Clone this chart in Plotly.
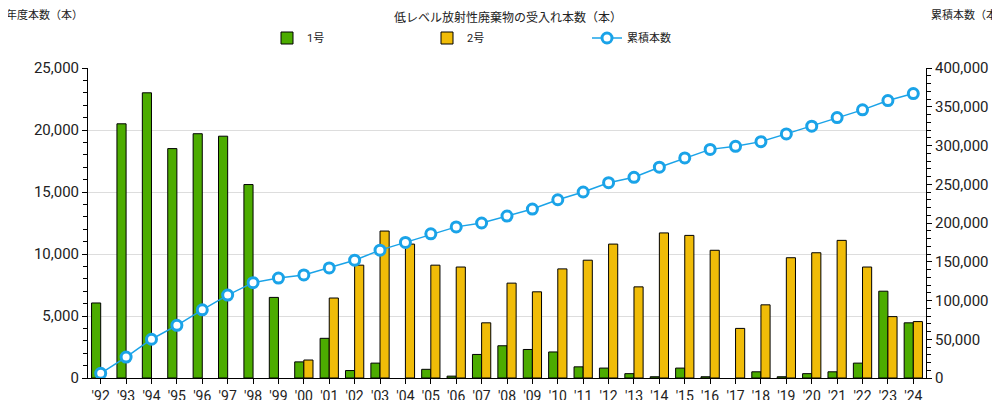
import plotly.graph_objects as go

years = ["'92","'93","'94","'95","'96","'97","'98","'99","'00","'01","'02","'03","'04","'05","'06","'07","'08","'09","'10","'11","'12","'13","'14","'15","'16","'17","'18","'19","'20","'21","'22","'23","'24"]
no1 = [6050,20500,23000,18500,19700,19500,15600,6500,1300,3200,600,1200,None,700,150,1900,2600,2300,2100,900,800,350,100,800,100,None,500,100,350,500,1200,7000,4450]
no2 = [None,None,None,None,None,None,None,None,1450,6450,9100,11850,10800,9100,8950,4450,7650,6950,8800,9500,10800,7350,11700,11500,10300,4000,5900,9700,10100,11100,8950,4950,4550]
cum = [6000,27000,50000,68000,88000,107000,123000,129000,133000,142000,152000,165000,175000,186000,195000,200000,209000,218000,230000,240000,252000,259000,272000,284000,295000,299000,305000,315000,325000,336000,346000,358000,367000]

fig = go.Figure()
fig.add_bar(x=years, y=no1, name="1号", marker=dict(color="#4cac00", line=dict(color="black", width=1)))
fig.add_bar(x=years, y=no2, name="2号", marker=dict(color="#f0bc08", line=dict(color="black", width=1)))
fig.add_scatter(x=years, y=cum, name="累積本数", yaxis="y2", mode="lines+markers",
                line=dict(color="#1aa3e8", width=1.5),
                marker=dict(size=10, color="white", line=dict(color="#1aa3e8", width=3)))

fnt = "Roboto, 'Noto Sans CJK JP', sans-serif"
fig.update_layout(
    width=1000, height=400, margin=dict(l=80, r=82, t=60, b=30, autoexpand=False),
    plot_bgcolor="white", paper_bgcolor="white",
    font=dict(family=fnt, size=13, color="#222"),
    barmode="group", bargap=0.28, bargroupgap=0,
    title=dict(text="低レベル放射性廃棄物の受入れ本数（本）", x=0.5, y=0.985, yanchor="top", font=dict(size=12)),
    legend=dict(orientation="h", x=0.5, xanchor="center", y=1.05, yanchor="bottom", font=dict(size=11), entrywidth=115),
    xaxis=dict(showline=True, linecolor="black", ticks="outside", tickcolor="black", tickfont=dict(size=14), range=[-0.5, 32.5]),
    yaxis=dict(range=[0, 25000], dtick=5000, tickformat=",", showgrid=True, gridcolor="#ddd",
               showline=True, linecolor="black", ticks="outside", tickcolor="black", tickfont=dict(size=15),
               minor=dict(dtick=1000, ticks="outside", ticklen=4, tickcolor="black")),
    yaxis2=dict(range=[0, 400000], dtick=50000, tickformat=",", overlaying="y", side="right", showgrid=False,
                showline=True, linecolor="black", ticks="outside", tickcolor="black", tickfont=dict(size=15),
                minor=dict(dtick=10000, ticks="outside", ticklen=4, tickcolor="black")),
    annotations=[
        dict(text="年度本数（本）", xref="paper", yref="paper", x=-0.1, y=1.2, xanchor="left", yanchor="top", showarrow=False, font=dict(size=11)),
        dict(text="累積本数（本）", xref="paper", yref="paper", x=1.1, y=1.2, xanchor="right", yanchor="top", showarrow=False, font=dict(size=11)),
        dict(text="年度", xref="paper", yref="paper", x=-0.03, y=-0.06, xanchor="center", yanchor="top", showarrow=False, font=dict(size=11)),
    ],
)
fig.write_html("out.html")
